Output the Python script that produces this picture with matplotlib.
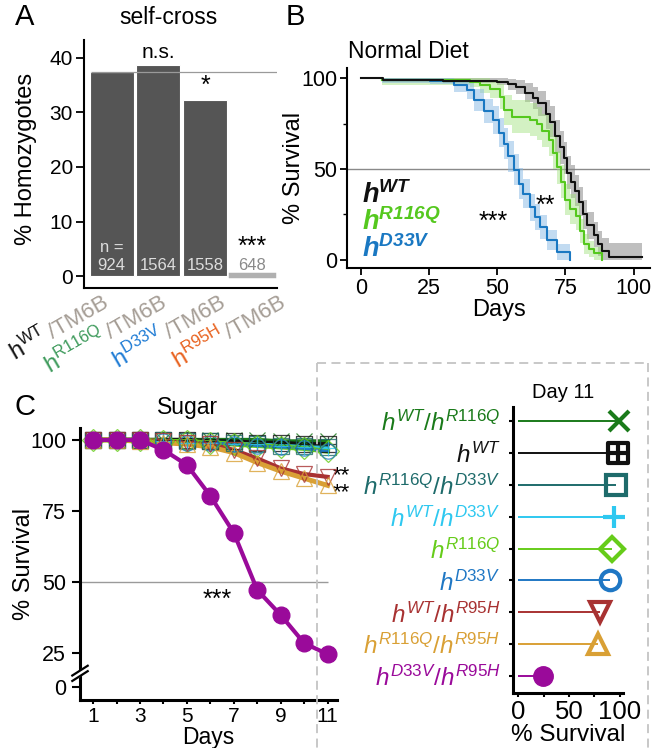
import numpy as np
import matplotlib
matplotlib.use('Agg')
import matplotlib.pyplot as plt
import matplotlib.transforms as mtransforms
from matplotlib.lines import Line2D
from matplotlib.path import Path

plt.rcParams['font.family'] = ['Liberation Sans', 'DejaVu Sans']
plt.rcParams['mathtext.fontset'] = 'custom'
plt.rcParams['mathtext.rm'] = 'Liberation Sans'
plt.rcParams['mathtext.it'] = 'Liberation Sans:italic'
plt.rcParams['mathtext.bf'] = 'Liberation Sans:bold'
plt.rcParams['mathtext.bfit'] = 'Liberation Sans:italic:bold'

# ---------------- data ----------------
# Panel A
a_genotypes = ['WT', 'R116Q', 'D33V', 'R95H']
a_geno_colors = ['#111111', '#3d9a5b', '#1c7ad4', '#e8601c']
a_homo_pct = [37.5, 38.8, 32.3, 0.3]
a_n = ['924', '1564', '1558', '648']
a_sig = ['', 'n.s.', '*', '***']
a_expected = 37.5

# Panel B (Kaplan-Meier, normal diet)
b_wt_days = [0, 8, 30, 50, 54, 57, 60, 63, 65, 68, 69.5, 71, 73, 74.5, 75.5, 77, 78.5, 80, 81.5, 83, 85.5, 87, 88.5, 91, 103]
b_wt_surv = [100, 99, 98.5, 98, 96.5, 95, 92, 89, 86, 80, 76, 68, 62, 56, 48, 43, 38, 32, 25, 19, 14, 9, 5, 1.5, 1.5]
b_wt_ci = [0, 1, 1.5, 2, 3, 4, 5, 6, 7, 8, 8.5, 9, 9, 9, 9, 9, 8.5, 8, 8, 7.5, 7, 7, 7, 8, 8]

b_r116q_days = [7.6, 40, 43.8, 47.5, 51, 52.5, 55.4, 62, 64.6, 66.5, 68.8, 70.5, 71.9, 73.2, 75, 76.8, 78.7, 80.2, 81.7, 83.5, 85.4, 88.5]
b_r116q_surv = [99, 98, 96, 94, 89.7, 82.4, 78.8, 77, 75, 71, 66, 59, 51, 43, 33, 28, 24, 16, 9, 6, 3.6, 0]
b_r116q_ci = [3, 3, 4, 5, 7, 8, 9, 9, 9, 9, 9, 9, 9, 9, 8.5, 8, 7.5, 6.5, 5.5, 4.5, 3.5, 2]

b_d33v_days = [7.6, 25.4, 34, 38.9, 41.3, 45, 48.6, 50.5, 52.3, 54.1, 56, 57.8, 59.6, 62, 64, 65.8, 68.3, 71.9, 76.8]
b_d33v_surv = [99, 98.5, 96, 93.4, 88, 82, 77, 70, 64, 57, 49.5, 42, 36.5, 29, 23.6, 18, 11, 4.4, 0]
b_d33v_ci = [1.5, 2, 3.5, 5, 6, 6.5, 7.5, 8, 8.5, 8.5, 8.5, 8.5, 8, 7.5, 7, 6.5, 5.5, 4.5, 2.5]

# Panel C (sugar diet), days 1..11
c_days = [1, 2, 3, 4, 5, 6, 7, 8, 9, 10, 11]
c_labels = ['WT/R116Q', 'WT', 'R116Q/D33V', 'WT/D33V', 'R116Q', 'D33V', 'WT/R95H', 'R116Q/R95H', 'D33V/R95H']
c_wt_r116q = [100, 100, 100, 100, 100, 100, 100, 100, 99.5, 99.5, 99.5]
c_wt = [100, 100, 100, 100, 100, 99.5, 99.5, 99, 99, 98.5, 98.5]
c_r116q_d33v = [100, 100, 100, 100, 99.5, 99.5, 99, 98.5, 98, 98, 97.5]
c_wt_d33v = [100, 100, 99.5, 99.5, 99, 99, 98.5, 98.5, 98, 97.5, 97]
c_r116q = [100, 100, 100, 99.5, 99.5, 99, 98.5, 98, 97.5, 97, 96]
c_d33v = [100, 100, 100, 99.5, 99, 99, 98.5, 98, 97.5, 97, 96]
c_wt_r95h = [100, 100, 100, 99.5, 99, 98.5, 96.5, 93.5, 90, 88, 87]
c_r116q_r95h = [100, 100, 99.5, 99, 98.5, 97.5, 95.5, 92, 89, 86.5, 84]
c_d33v_r95h = [100, 100, 100, 96.5, 91.2, 80.3, 67.3, 47.2, 38.4, 28.5, 24.6]

# Panel D: day 11 survival
d_day11 = [99.5, 98, 96.5, 94, 92, 90, 80.5, 78.5, 24.6]

# ---------------- style ----------------
W, H = 664, 748
fig = plt.figure(figsize=(W / 100, H / 100), dpi=100)


def fx(x):
    return x / W


def fy(y):
    return 1 - y / H


def axrect(l, t, r, b):
    return [l / W, 1 - b / H, (r - l) / W, (b - t) / H]


def style_axes(ax, lw):
    for s in ['top', 'right']:
        ax.spines[s].set_visible(False)
    for s in ['left', 'bottom']:
        ax.spines[s].set_linewidth(lw)


# ---------------- Panel A ----------------
axA = fig.add_axes(axrect(84, 40, 277, 288))
style_axes(axA, 1.5)
xa = np.arange(len(a_homo_pct))
dark, light = '#555555', '#b0b0b0'
axA.bar(xa, a_homo_pct, width=0.94, color=[dark, dark, dark, light],
        edgecolor=['white', 'white', 'white', light], linewidth=[0.8, 0.8, 0.8, 2.5])
axA.hlines(a_expected, -0.45, 3.54, color='#9a9a9a', lw=0.9, zorder=3)
axA.set_xlim(-0.59, 3.54)
axA.set_ylim(-2.2, 43.3)
axA.set_yticks([0, 10, 20, 30, 40])
axA.tick_params(axis='y', labelsize=15, length=6, width=1.3, pad=2)
axA.set_xticks([])
axA.set_ylabel('% Homozygotes', fontsize=17)
axA.yaxis.set_label_coords(-0.245, 0.52)
for i, n in enumerate(a_n):
    col = '#dddddd' if i < 3 else '#8a8a8a'
    axA.text(xa[i], 2.0, n, ha='center', va='center', fontsize=12, color=col)
axA.text(xa[0], 5.3, 'n =', ha='center', va='center', fontsize=12, color='#dddddd')
axA.text(xa[1], a_homo_pct[1] + 0.4, a_sig[1], ha='center', va='bottom', fontsize=15)
axA.text(xa[2], a_homo_pct[2] + 0.3, a_sig[2], ha='center', va='bottom', fontsize=18)
axA.text(xa[3], 3.2, a_sig[3], ha='center', va='bottom', fontsize=18)

# rotated two-colour tick labels
renderer = fig.canvas.get_renderer()
lab_fs = 16
tmp = fig.text(0, 0, '/TM6B', fontsize=lab_fs)
wpx = tmp.get_window_extent(renderer).width + 4
tmp.remove()
ang = np.deg2rad(30)
label_x = [-0.03, 1.21, 2.47, 3.76]
label_y = -0.072
for i, g in enumerate(a_genotypes):
    tr = axA.get_xaxis_transform()
    axA.text(label_x[i], label_y, '/TM6B', color='#a59d95', fontsize=lab_fs, rotation=30,
             rotation_mode='anchor', ha='right', va='baseline', transform=tr, clip_on=False)
    tr2 = mtransforms.offset_copy(tr, fig=fig, x=-wpx * np.cos(ang) * 0.72,
                                  y=-wpx * np.sin(ang) * 0.72, units='points')
    axA.text(label_x[i], label_y, r'$\mathrm{h}^{\mathrm{' + g + '}}$', color=a_geno_colors[i],
             fontsize=lab_fs + 1, rotation=30, rotation_mode='anchor', ha='right', va='baseline',
             transform=tr2, clip_on=False)

fig.text(fx(15), fy(17), 'A', fontsize=21, ha='left', va='center')
fig.text(fx(168), fy(17), 'self-cross', fontsize=16.5, ha='center', va='center')

# ---------------- Panel B ----------------
axB = fig.add_axes(axrect(347, 68, 650, 268))
style_axes(axB, 1.5)
b_series = [
    (b_wt_days, b_wt_surv, b_wt_ci, '#111111', '#808080', 0.5),
    (b_r116q_days, b_r116q_surv, b_r116q_ci, '#55c81e', '#9ee07a', 0.45),
    (b_d33v_days, b_d33v_surv, b_d33v_ci, '#1a78c2', '#86b8e4', 0.5),
]
for d, s, c, lc, fc, al in b_series:
    s = np.array(s, float)
    c = np.array(c, float)
    axB.fill_between(d, np.clip(s - c, 0, 100), np.clip(s + c, 0, 100), step='post',
                     color=fc, alpha=al, lw=0)
for d, s, c, lc, fc, al in b_series[::-1]:
    axB.step(d, s, where='post', color=lc, lw=1.5)
axB.axhline(50, color='#8a8a8a', lw=1.0, zorder=0)
axB.set_xlim(-5.1, 106)
axB.set_ylim(-4.4, 105.5)
axB.set_xticks([0, 25, 50, 75, 100])
axB.set_yticks([0, 50, 100])
axB.set_yticks([25, 75], minor=True)
axB.tick_params(axis='both', which='major', labelsize=15.5, length=5, width=1.3, pad=2)
axB.tick_params(axis='y', which='minor', length=3, width=1.0)
axB.set_xlabel('Days', fontsize=17, labelpad=0)
axB.set_ylabel('% Survival', fontsize=17)
axB.yaxis.set_label_coords(-0.14, 0.5)
axB.text(0.4, 31.3, r'$\mathbfit{h}^{\mathbfit{WT}}$', color='#111111', fontsize=19.5, va='baseline')
axB.text(0.4, 16.5, r'$\mathbfit{h}^{\mathbfit{R116Q}}$', color='#55c81e', fontsize=19.5, va='baseline')
axB.text(0.4, 1.6, r'$\mathbfit{h}^{\mathbfit{D33V}}$', color='#1a78c2', fontsize=19.5, va='baseline')
axB.text(48.5, 21, '***', fontsize=18, ha='center', va='center')
axB.text(67.6, 30, '**', fontsize=18, ha='center', va='center')
fig.text(fx(295), fy(17), 'B', fontsize=21, ha='center', va='center')
fig.text(fx(348), fy(52), 'Normal Diet', fontsize=16.5, ha='left', va='center')

# ---------------- Panel C ----------------
wt_marker = Path([(-1, -1), (1, -1), (1, 1), (-1, 1), (-1, -1), (0, -1), (0, 1), (-1, 0), (1, 0)],
                 [Path.MOVETO, Path.LINETO, Path.LINETO, Path.LINETO, Path.CLOSEPOLY,
                  Path.MOVETO, Path.LINETO, Path.MOVETO, Path.LINETO])
c_styles = [
    ('#1a7a1a', 'x', 'none'),
    ('#111111', wt_marker, 'none'),
    ('#1e6b6b', 's', 'none'),
    ('#2ec8f0', '+', 'none'),
    ('#66cc1a', 'D', 'none'),
    ('#1f77c4', 'o', 'none'),
    ('#a83232', 'v', 'none'),
    ('#d9a035', '^', 'none'),
    ('#9a0a9a', 'o', '#9a0a9a'),
]
c_values = [c_wt_r116q, c_wt, c_r116q_d33v, c_wt_d33v, c_r116q, c_d33v, c_wt_r95h, c_r116q_r95h, c_d33v_r95h]

axC = fig.add_axes(axrect(80, 428, 337, 700))
style_axes(axC, 2.2)
axC.hlines(50, 0.44, 11, color='#9a9a9a', lw=1.0, zorder=0)
draw_order = [7, 6, 5, 4, 3, 2, 0, 1]
line_w = {0: 3.0, 1: 3.0, 2: 2.0, 3: 2.5, 4: 3.5, 5: 2.0, 6: 3.0, 7: 3.5}
for k in draw_order:
    col, mk, mfc = c_styles[k]
    axC.plot(c_days, c_values[k], color=col, lw=line_w[k], zorder=2 + 0.1 * k)
for k in draw_order:
    col, mk, mfc = c_styles[k]
    ms = 11 if mk not in ('x', '+') else 12
    axC.plot(c_days, c_values[k], ls='none', marker=mk, ms=ms, mfc=mfc, mec=col, mew=0.9,
             zorder=3 + 0.1 * k, alpha=0.8, clip_on=False)
col, mk, mfc = c_styles[8]
axC.plot(c_days, c_values[8], color=col, lw=3.0, marker='o', ms=12, mfc=col, mec=col,
         zorder=6, clip_on=False)
axC.set_xlim(0.44, 11.4)
axC.set_ylim(8.5, 104.2)
axC.set_xticks([1, 3, 5, 7, 9, 11])
axC.set_xticks([2, 4, 6, 8, 10], minor=True)
axC.set_yticks([13, 25, 50, 75, 100])
axC.set_yticklabels(['0', '25', '50', '75', '100'])
axC.tick_params(axis='y', labelsize=15.5, length=6, width=1.5, pad=4)
axC.tick_params(axis='x', which='both', labelsize=15, length=3, width=1.5, pad=2)
axC.set_xlabel('Days', fontsize=16.5, labelpad=0)
axC.set_ylabel('% Survival', fontsize=17)
axC.yaxis.set_label_coords(-0.175, 0.5)
# broken-axis marks
axC.plot([-0.02, 0.02], [0.082, 0.112], transform=axC.transAxes, color='white', lw=4,
         clip_on=False, zorder=10, solid_capstyle='butt')
axC.plot([-0.03, 0.03], [0.070, 0.106], transform=axC.transAxes, color='black', lw=1.6,
         clip_on=False, zorder=11)
axC.plot([-0.03, 0.03], [0.090, 0.126], transform=axC.transAxes, color='black', lw=1.6,
         clip_on=False, zorder=11)
axC.text(6.3, 43.6, '***', fontsize=18, ha='center', va='center')
axC.text(11.6, 84.5, '**\n**', fontsize=16, ha='center', va='center', linespacing=0.75,
         clip_on=False)
fig.text(fx(25), fy(407), 'C', fontsize=21, ha='center', va='center')
fig.text(fx(188), fy(408), 'Sugar', fontsize=16.5, ha='center', va='center')

# ---------------- Panel D ----------------
axD = fig.add_axes(axrect(513, 407, 623, 693))
style_axes(axD, 2.2)
rows = np.arange(len(d_day11))
for i, v in enumerate(d_day11):
    col, mk, mfc = c_styles[i]
    axD.hlines(rows[i], 0, v, color=col, lw=1.4, zorder=2)
    ms = 14
    if mk == 'x':
        ms = 15
    if mk == '+':
        ms = 16
    if mk == 'D':
        ms = 12
    axD.plot([v], [rows[i]], marker=mk, ms=ms, mfc=mfc, mec=col, mew=3 if i != 8 else 1,
             ls='none', clip_on=False, zorder=4)
axD.set_xlim(-5, 103)
axD.set_ylim(8.53, -0.44)
axD.set_xticks([0, 50, 100])
axD.set_xticks([25, 75], minor=True)
axD.tick_params(axis='x', which='major', labelsize=18.5, length=3, width=1.5, pad=2)
axD.tick_params(axis='x', which='minor', length=3, width=1.5)
axD.set_yticks(rows)
lab_tex = []
for lab in c_labels:
    parts = lab.split('/')
    s = '/'.join([r'\mathit{h}^{\mathit{' + p + '}}' for p in parts])
    lab_tex.append('$' + s + '$')
axD.set_yticklabels(lab_tex)
axD.tick_params(axis='y', labelsize=17.5, length=3, width=1.5, pad=6)
for tl, (col, mk, mfc) in zip(axD.get_yticklabels(), c_styles):
    tl.set_color(col)
axD.set_xlabel('% Survival', fontsize=17.5, labelpad=0)
fig.text(fx(563), fy(392), 'Day 11', fontsize=14.5, ha='center', va='center')

# dashed box
box_col = '#c4c4c4'
for (x0, y0, x1, y1) in [(317, 363, 648, 363), (317, 363, 317, 748), (648, 363, 648, 748)]:
    fig.add_artist(Line2D([fx(x0), fx(x1)], [fy(y0), fy(y1)], color=box_col, lw=1.3,
                          ls=(0, (5, 3)), transform=fig.transFigure))

fig.savefig('out.png', dpi=100)
